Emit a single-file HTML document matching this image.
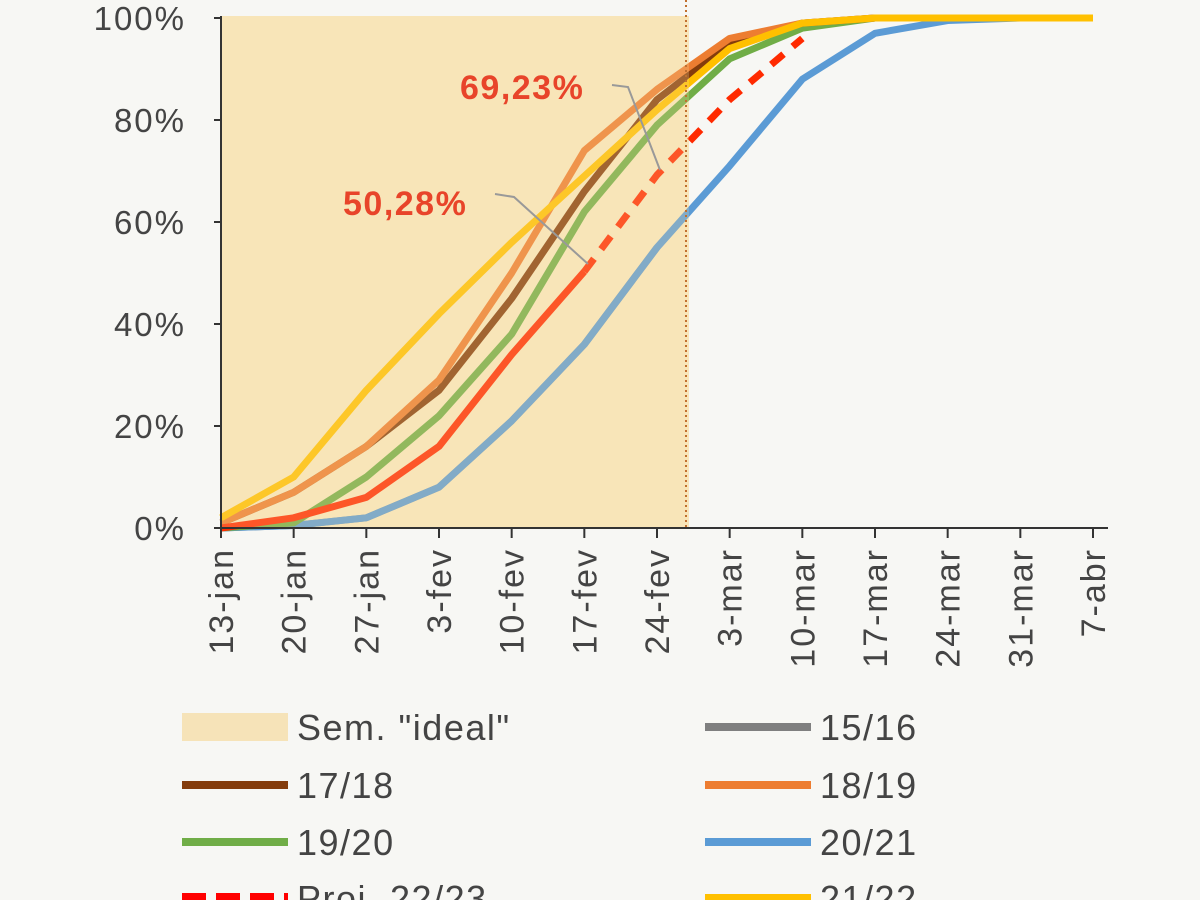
<!DOCTYPE html>
<html><head><meta charset="utf-8"><style>
html,body{margin:0;padding:0;background:#f7f7f4;}
svg{display:block;font-family:"Liberation Sans",sans-serif;}
</style></head><body>
<svg id="chart" width="1200" height="900" viewBox="0 0 1200 900">
<rect width="1200" height="900" fill="#f7f7f4"/>
<rect x="221" y="16" width="468" height="512" fill="#f8e8c0"/>
<g id="lines"></g>
<rect x="221" y="16" width="468" height="512" fill="#f6dca0" opacity="0.25"/>
<line x1="686" y1="0" x2="686" y2="528" stroke="#c07030" stroke-width="2" stroke-dasharray="2,3"/>
<g id="axes"></g>
<g>
<text x="460" y="99" font-size="34" font-weight="bold" letter-spacing="1.5" fill="#e8442a">69,23%</text>
<polyline points="612,85 628,87 660,170" fill="none" stroke="#999" stroke-width="2"/>
</g>
<g>
<text x="343" y="215" font-size="34" font-weight="bold" letter-spacing="1.5" fill="#e8442a">50,28%</text>
<polyline points="495,194 514,197 588,264" fill="none" stroke="#999" stroke-width="2"/>
</g>
<g id="legend" font-size="36" letter-spacing="1.5" fill="#444"></g>
</svg>
<script>
const categories=["13-jan","20-jan","27-jan","3-fev","10-fev","17-fev","24-fev","3-mar","10-mar","17-mar","24-mar","31-mar","7-abr"];
const yTicks=[0,20,40,60,80,100];
const s1516=[0,0.5,2,8,21,36,55,null,null,null,null,null,null];
const s1718=[1,7,16,27,45,66,84,95,99,100,100,100,100];
const s1819=[1,7,16,29,50,74,86,96,99,100,100,100,100];
const s1920=[0,1,10,22,38,62,79,92,98,100,100,100,100];
const s2021=[0,0.5,2,8,21,36,55,71,88,97,99.5,100,100];
const s2122=[2,10,27,42,56,69,82,94,99,100,100,100,100];
const s2223=[0,2,6,16,34,50.28,null,null,null,null,null,null,null];
const proj2223=[null,null,null,null,null,50.28,69.23,84,96,null,null,null,null];
const NS="http://www.w3.org/2000/svg";
const x0=221,x1=1093,y0=528,y1=18;
function xs(i){return x0+(x1-x0)*i/(categories.length-1);}
function ys(v){return y0-(y0-y1)*v/100;}
function mk(t,a,p){const e=document.createElementNS(NS,t);for(const k in a)e.setAttribute(k,a[k]);p.appendChild(e);return e;}
const L=document.getElementById('lines');
const series=[
 {d:s1516,c:"#7f8f90",n:"line-15-16"},
 {d:s2021,c:"#5b9bd5",n:"line-20-21"},
 {d:s1920,c:"#70ad47",n:"line-19-20"},
 {d:s1718,c:"#843c0c",n:"line-17-18"},
 {d:s1819,c:"#ed7d31",n:"line-18-19"},
 {d:s2122,c:"#ffc000",n:"line-21-22"},
 {d:s2223,c:"#ff2a00",n:"line-22-23"},
 {d:proj2223,c:"#ff2a00",n:"line-proj-22-23",dash:"16,12"}
];
series.forEach(s=>{
 const pts=[];s.d.forEach((v,i)=>{if(v!==null)pts.push(xs(i)+","+ys(v));});
 const p=mk('polyline',{points:pts.join(" "),fill:"none",stroke:s.c,"stroke-width":7,"stroke-linejoin":"round"},L);
 if(s.dash)p.setAttribute('stroke-dasharray',s.dash);
 
 
});
const A=document.getElementById('axes');
const ya=mk('line',{x1:x0,y1:y1-2,x2:x0,y2:y0,stroke:"#333","stroke-width":2},A);


const xa=mk('line',{x1:x0,y1:y0,x2:1108,y2:y0,stroke:"#333","stroke-width":2},A);


yTicks.forEach(v=>{
 mk('line',{x1:x0-7,y1:ys(v),x2:x0,y2:ys(v),stroke:"#333","stroke-width":2},A);
 const t=mk('text',{x:186,y:ys(v)+12,"text-anchor":"end","font-size":33,"letter-spacing":2,fill:"#444"},A);
 t.textContent=v+"%";
 
 
});
categories.forEach((c,i)=>{
 mk('line',{x1:xs(i),y1:y0,x2:xs(i),y2:y0+10,stroke:"#333","stroke-width":2},A);
 const t=mk('text',{transform:"translate("+(xs(i)+12)+",548) rotate(-90)","text-anchor":"end","font-size":34,"letter-spacing":2,fill:"#444"},A);
 t.textContent=c;
 
 
});
const G=document.getElementById('legend');
const leg=[
 ["Sem. \"ideal\"","#f6e3b8","box",182,727],["15/16","#7f7f7f","line",705,727],
 ["17/18","#843c0c","line",182,785],["18/19","#ed7d31","line",705,785],
 ["19/20","#70ad47","line",182,842],["20/21","#5b9bd5","line",705,842],
 ["Proj. 22/23","#ff0000","dash",182,898],["21/22","#ffc000","line",705,898]
];
leg.forEach(l=>{
 const g=mk('g',{},G);
 
 
 if(l[2]==="box")mk('rect',{x:l[3],y:l[4]-14,width:106,height:28,fill:l[1]},g);
 else{const ln=mk('line',{x1:l[3],y1:l[4],x2:l[3]+106,y2:l[4],stroke:l[1],"stroke-width":l[2]==="dash"?10:8},g);
  if(l[2]==="dash")ln.setAttribute('stroke-dasharray','24,10');}
 const t=mk('text',{x:l[3]+115,y:l[4]+13},g);
 t.textContent=l[0];
});
</script>
</body></html>
